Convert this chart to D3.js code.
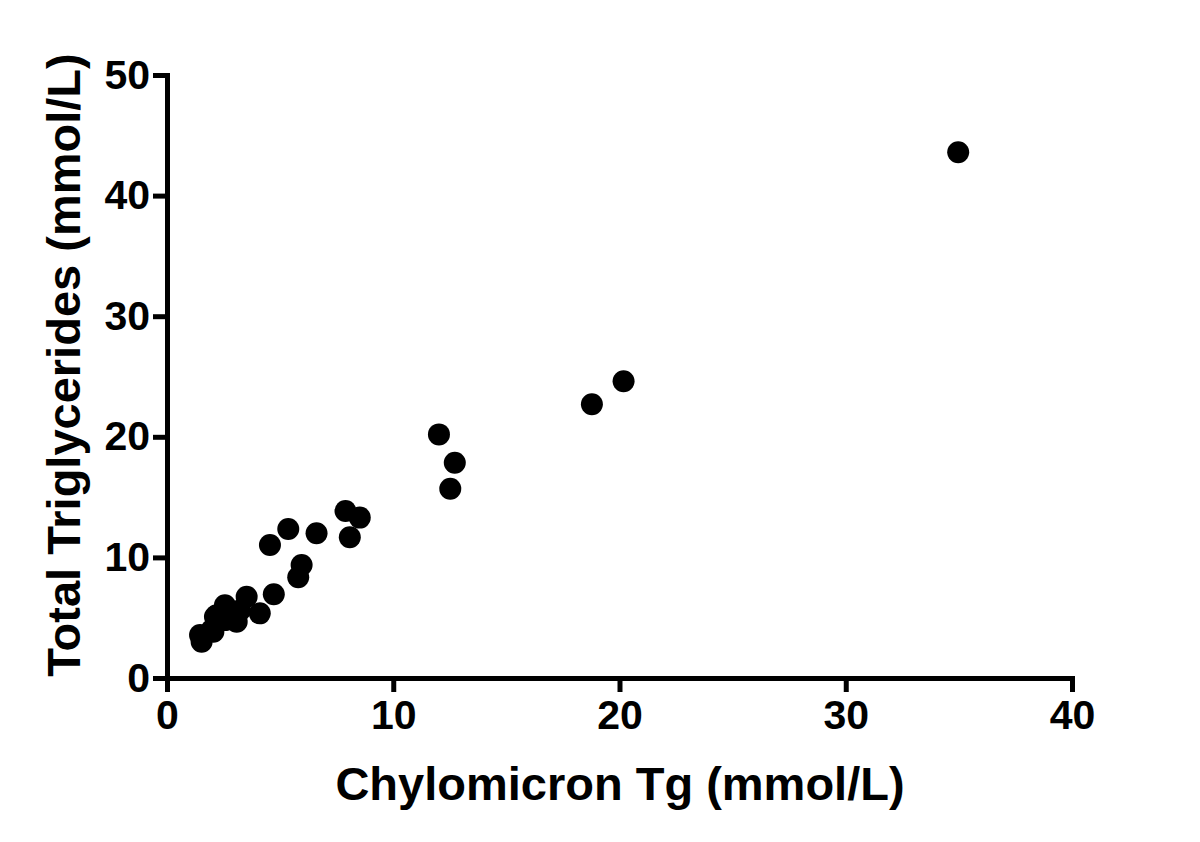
<!DOCTYPE html>
<html>
<head>
<meta charset="utf-8">
<script src="https://d3js.org/d3.v7.min.js"></script>
<style>
  body { margin: 0; background: #fff; }
  svg text { font-family: "Liberation Sans", Arial, sans-serif; font-weight: bold; fill: #000; }
</style>
</head>
<body>
<svg id="chart" width="1200" height="842"></svg>
<script>
// chylomicron Tg (x) vs total triglycerides (y), mmol/L
var chyloTg = [1.46, 1.53, 1.97, 2.05, 2.12, 2.19, 2.56, 2.56, 3.08, 3.22, 3.52, 4.1, 4.55, 4.72,
               5.36, 5.8, 5.95, 6.61, 7.89, 8.08, 8.52, 12.02, 12.52, 12.72, 18.78, 20.18, 34.97];
var totalTg = [3.57, 3.0, 3.98, 3.84, 5.08, 5.2, 6.03, 4.8, 4.67, 5.6, 6.74, 5.36, 11.03, 6.94,
               12.35, 8.35, 9.37, 12.0, 13.85, 11.67, 13.3, 20.2, 15.7, 17.85, 22.7, 24.6, 43.6];
var xTicks = [0, 10, 20, 30, 40];
var yTicks = [0, 10, 20, 30, 40, 50];

var points = chyloTg.map(function(d, i) { return {x: d, y: totalTg[i]}; });

var svg = d3.select("#chart");
var x = d3.scaleLinear().domain([0, 40]).range([167, 1072]);
var y = d3.scaleLinear().domain([0, 50]).range([678, 75]);

var xAxis = d3.axisBottom(x).tickValues(xTicks).tickSize(14).tickPadding(6).tickFormat(d3.format("d"));
var yAxis = d3.axisLeft(y).tickValues(yTicks).tickSize(14).tickPadding(3).tickFormat(d3.format("d"));

var gx = svg.append("g").attr("transform", "translate(0,678)").call(xAxis);
var gy = svg.append("g").attr("transform", "translate(167,0)").call(yAxis);

[gx, gy].forEach(function(g) {
  g.attr("font-family", null).attr("font-size", null);
  g.select(".domain").attr("stroke", "#000").attr("stroke-width", 5);
  g.selectAll(".tick line").attr("stroke", "#000").attr("stroke-width", 5);
  g.selectAll(".tick text").style("font-size", "41px").attr("fill", "#000");
});
gx.selectAll(".tick text").attr("dy", "0.75em");

svg.append("g").selectAll("circle")
  .data(points)
  .enter().append("circle")
  .attr("cx", function(d) { return x(d.x); })
  .attr("cy", function(d) { return y(d.y); })
  .attr("r", 11)
  .attr("fill", "#000");

svg.append("text")
  .attr("x", 620).attr("y", 800)
  .attr("text-anchor", "middle")
  .style("font-size", "47px")
  .text("Chylomicron Tg (mmol/L)");

svg.append("text")
  .attr("transform", "translate(80,365) rotate(-90)")
  .attr("text-anchor", "middle")
  .style("font-size", "47px")
  .text("Total Triglycerides (mmol/L)");
</script>
</body>
</html>
